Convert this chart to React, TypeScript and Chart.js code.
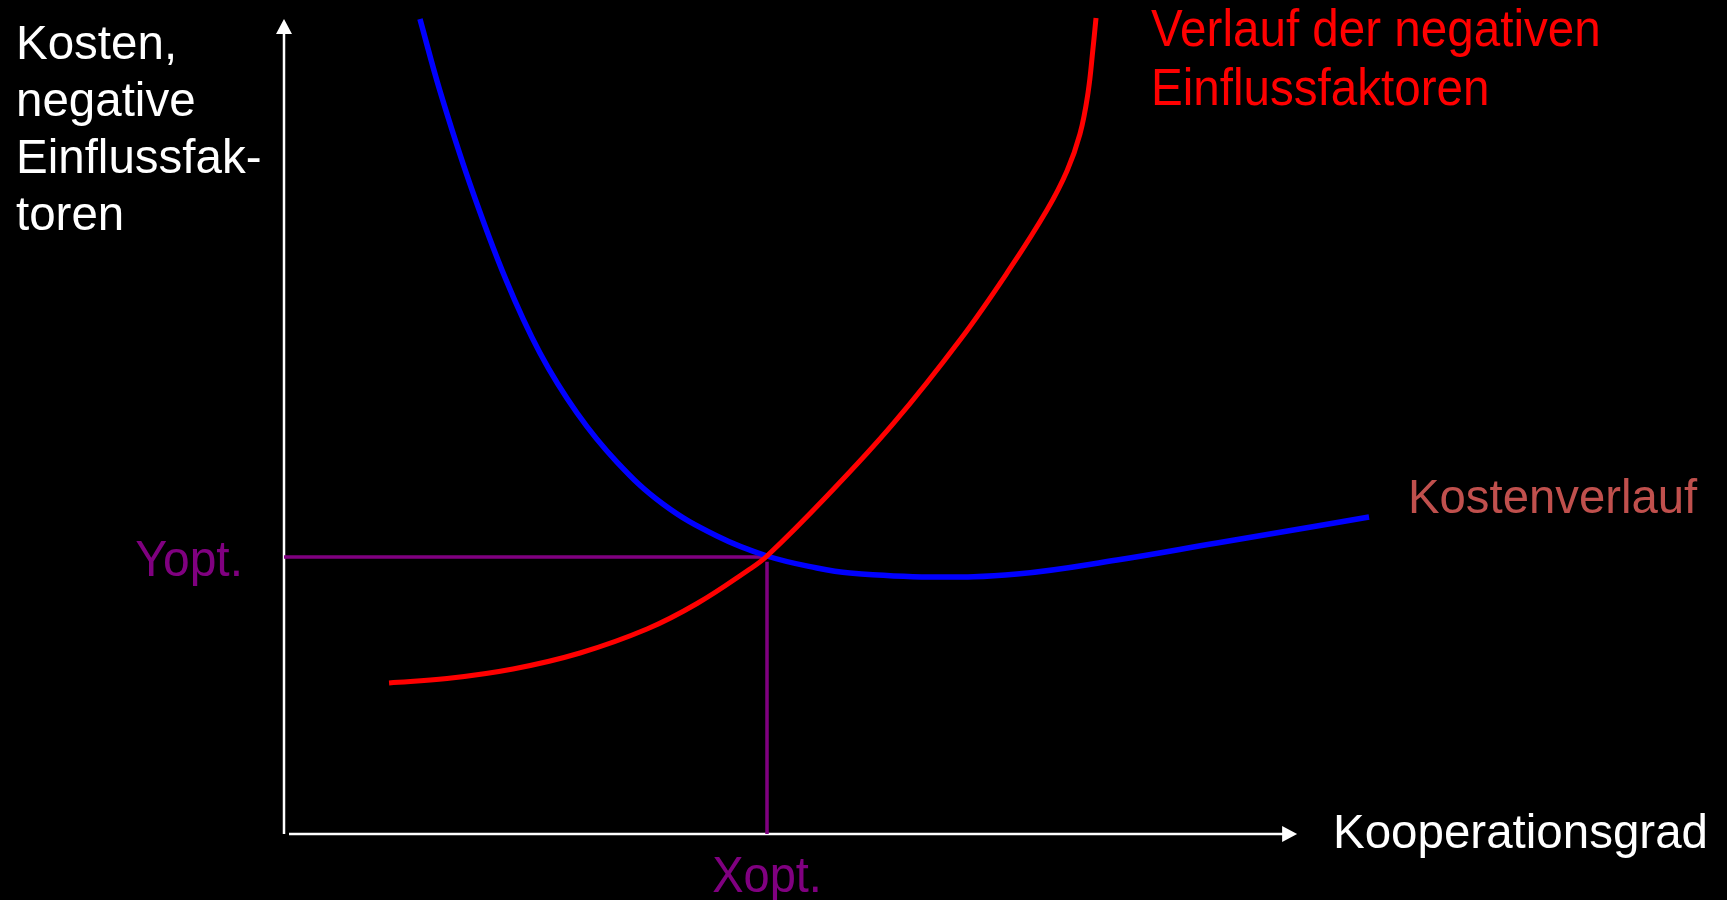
import React, { useEffect, useRef } from "react";
import { Chart, registerables } from "chart.js";

Chart.register(...registerables);

// Kostenverlauf (blue curve)
const costX = [12.36, 14.18, 16.91, 20.18, 23.27, 26.64, 30.27, 34.45, 39.36, 43.91, 48.45, 51.45, 58.73, 66.64, 75.73, 84.82, 93.91, 98.64];
const costY = [100.0, 91.17, 79.75, 68.0, 59.02, 51.66, 45.64, 40.49, 36.56, 34.11, 32.64, 32.02, 31.53, 31.9, 33.62, 35.71, 37.79, 38.9];

// Verlauf der negativen Einflussfaktoren (red curve)
const negX = [9.55, 14.82, 20.82, 26.91, 33.0, 37.55, 42.09, 43.91, 49.36, 55.36, 61.45, 66.0, 69.36, 71.18, 72.36, 73.09, 73.55, 73.82];
const negY = [18.53, 19.08, 20.25, 22.21, 25.15, 28.28, 32.27, 34.11, 41.47, 50.31, 60.61, 69.39, 76.56, 81.35, 85.89, 90.92, 96.44, 100.12];

// optimum
const optX = 43.91;
const optY = 34.0;

// axis extents (data units)
const axisXEnd = 92.1;
const axisYEnd = 100;

// texts
const yTitleLines = ["Kosten,", "negative", "Einflussfak-", "toren"];
const negLabelLines = ["Verlauf der negativen", "Einflussfaktoren"];
const costLabel = "Kostenverlauf";
const xTitle = "Kooperationsgrad";
const yOptLabel = "Yopt.";
const xOptLabel = "Xopt.";

const FONT = "'Liberation Sans', Arial, Helvetica, sans-serif";

function drawText(
  ctx: CanvasRenderingContext2D,
  text: string,
  x: number,
  y: number,
  size: number,
  color: string,
  sx = 1,
  align: CanvasTextAlign = "left"
) {
  ctx.save();
  ctx.font = `${size}px ${FONT}`;
  ctx.fillStyle = color;
  ctx.textBaseline = "alphabetic";
  ctx.textAlign = align;
  ctx.translate(x, y);
  ctx.scale(sx, 1);
  ctx.fillText(text, 0, 0);
  ctx.restore();
}

const decor = {
  id: "decor",
  beforeDatasetsDraw(chart: any) {
    const { ctx, scales } = chart;
    const xs = scales.x;
    const ys = scales.y;
    const x0 = xs.getPixelForValue(0);
    const y0 = ys.getPixelForValue(0);
    const yTop = ys.getPixelForValue(axisYEnd);
    const xEnd = xs.getPixelForValue(axisXEnd);
    ctx.save();
    ctx.strokeStyle = "#ffffff";
    ctx.fillStyle = "#ffffff";
    ctx.lineWidth = 2.5;
    // y axis
    ctx.beginPath();
    ctx.moveTo(x0, y0);
    ctx.lineTo(x0, yTop + 12);
    ctx.stroke();
    ctx.beginPath();
    ctx.moveTo(x0, yTop);
    ctx.lineTo(x0 - 8, yTop + 15);
    ctx.lineTo(x0 + 8, yTop + 15);
    ctx.closePath();
    ctx.fill();
    // x axis
    ctx.beginPath();
    ctx.moveTo(x0 + 5, y0);
    ctx.lineTo(xEnd - 12, y0);
    ctx.stroke();
    ctx.beginPath();
    ctx.moveTo(xEnd, y0);
    ctx.lineTo(xEnd - 15, y0 - 8);
    ctx.lineTo(xEnd - 15, y0 + 8);
    ctx.closePath();
    ctx.fill();
    ctx.restore();
  },
  afterDraw(chart: any) {
    const { ctx, scales } = chart;
    const xs = scales.x;
    const ys = scales.y;
    // y axis title
    yTitleLines.forEach((t, i) => drawText(ctx, t, 16, 59 + i * 57, 47.5, "#ffffff"));
    // red label
    negLabelLines.forEach((t, i) => drawText(ctx, t, 1151, 46 + i * 59, 52, "#ff0000", 0.915));
    // cost label
    drawText(ctx, costLabel, 1408, 513, 47.3, "#C0504D");
    // x title
    drawText(ctx, xTitle, 1333, 848, 47.5, "#ffffff");
    // opt labels
    drawText(ctx, yOptLabel, 243, ys.getPixelForValue(optY) + 19, 50, "#800080", 0.96, "right");
    drawText(ctx, xOptLabel, xs.getPixelForValue(optX), 892, 50, "#800080", 0.94, "center");
  },
};

export default function App() {
  const ref = useRef<HTMLCanvasElement>(null);
  useEffect(() => {
    document.body.style.margin = "0";
    document.body.style.background = "#000";
    const canvas = ref.current!;
    const toPts = (xa: number[], ya: number[]) => xa.map((x, i) => ({ x, y: ya[i] }));
    const chart = new Chart(canvas, {
      type: "line",
      data: {
        datasets: [
          {
            label: "Verlauf der negativen Einflussfaktoren",
            data: toPts(negX, negY),
            borderColor: "#ff0000",
            borderWidth: 5,
            pointRadius: 0,
            fill: false,
            tension: 0.4,
            clip: false,
          } as any,
          {
            label: "Kostenverlauf",
            data: toPts(costX, costY),
            borderColor: "#0000ff",
            borderWidth: 5.5,
            pointRadius: 0,
            fill: false,
            tension: 0.4,
            clip: false,
          } as any,
          {
            label: "Yopt",
            data: [
              { x: 0, y: optY },
              { x: optX, y: optY },
            ],
            borderColor: "#800080",
            borderWidth: 3.5,
            pointRadius: 0,
            fill: false,
            clip: false,
          } as any,
          {
            label: "Xopt",
            data: [
              { x: optX, y: optY - 0.6 },
              { x: optX, y: 0 },
            ],
            borderColor: "#800080",
            borderWidth: 3.5,
            pointRadius: 0,
            fill: false,
            clip: false,
          } as any,
        ],
      },
      options: {
        responsive: false,
        animation: false,
        devicePixelRatio: 1,
        layout: { padding: { left: 284, right: 343, top: 19, bottom: 66 } },
        scales: {
          x: { type: "linear", min: 0, max: 100, display: false },
          y: { type: "linear", min: 0, max: 100, display: false },
        },
        plugins: {
          legend: { display: false },
          tooltip: { enabled: false },
        },
        events: [],
      },
      plugins: [decor],
    });
    return () => chart.destroy();
  }, []);
  return (
    <div style={{ width: 1727, height: 900, background: "#000" }}>
      <canvas ref={ref} width={1727} height={900} style={{ display: "block" }} />
    </div>
  );
}
